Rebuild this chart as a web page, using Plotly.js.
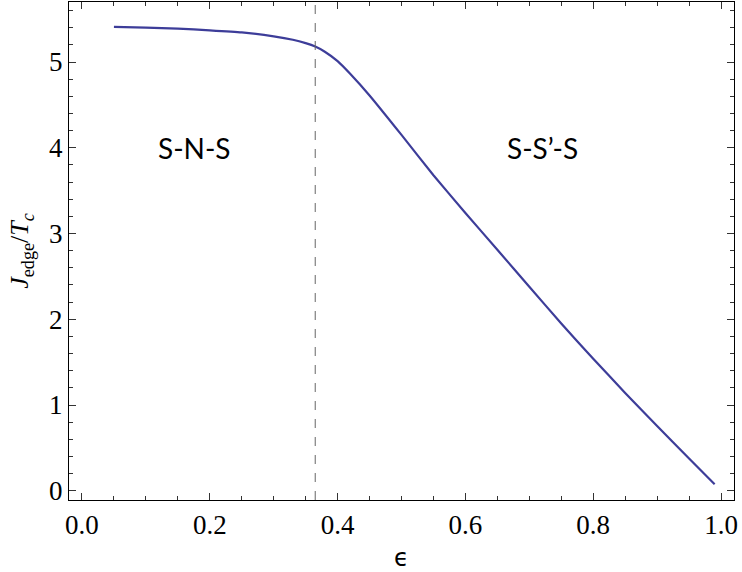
<!DOCTYPE html>
<html>
<head>
<meta charset="utf-8">
<script src="https://cdn.plot.ly/plotly-3.0.1.min.js"></script>
<style>html,body{margin:0;padding:0;background:#fff;}#plot{width:742px;height:572px;}</style>
</head>
<body>
<div id="plot"></div>
<script>
const epsilon = [0.05, 0.10, 0.15, 0.20, 0.25, 0.30, 0.33, 0.35, 0.365, 0.38, 0.40, 0.42, 0.45, 0.50, 0.55, 0.60, 0.65, 0.70, 0.75, 0.80, 0.85, 0.90, 0.95, 0.99];
const jEdge   = [5.41, 5.40, 5.39, 5.37, 5.345, 5.30, 5.26, 5.22, 5.18, 5.12, 5.01, 4.86, 4.61, 4.15, 3.68, 3.24, 2.81, 2.38, 1.95, 1.54, 1.14, 0.755, 0.375, 0.075];
const transitionX = 0.365;
const regionLabels = ["S-N-S", "S-S\u2019-S"];
const regionX = [0.176, 0.721];
const regionY = [4.0, 4.0];

const serif = "Liberation Serif";

const data = [{
  x: epsilon, y: jEdge, type: "scatter", mode: "lines",
  line: {color: "rgb(61,61,153)", width: 2.2, shape: "spline", smoothing: 0.4},
  hoverinfo: "skip", showlegend: false
}];

const layout = {
  width: 742, height: 572,
  margin: {l: 69, r: 8, t: 2, b: 72},
  paper_bgcolor: "#fff", plot_bgcolor: "#fff",
  font: {family: serif, size: 27, color: "#000"},
  xaxis: {
    showgrid: false, zeroline: false, showline: true, linecolor: "#000", linewidth: 1.2,
    mirror: "allticks", ticks: "inside", tickcolor: "#333", tickwidth: 1, ticklen: 7,
    tickfont: {family: serif, size: 27, color: "#000"},
    range: [-0.0203, 1.0203], tickmode: "linear", dtick: 0.2, tick0: 0, tickformat: ".1f",
    minor: {dtick: 0.05, tick0: 0, ticks: "inside", ticklen: 4, tickcolor: "#333", tickwidth: 1},
    title: {text: "\u03F5", font: {family: "DejaVu Sans", size: 24, color: "#000"}, standoff: 18}
  },
  yaxis: {
    showgrid: false, zeroline: false, showline: true, linecolor: "#000", linewidth: 1.2,
    mirror: "allticks", ticks: "inside", tickcolor: "#333", tickwidth: 1, ticklen: 7,
    tickfont: {family: serif, size: 27, color: "#000"},
    range: [-0.108, 5.70], tickmode: "linear", dtick: 1, tick0: 0,
    minor: {dtick: 0.2, tick0: 0, ticks: "inside", ticklen: 4, tickcolor: "#333", tickwidth: 1},
    title: {text: "<i>J</i><sub>edge</sub>/<i>T</i><sub><i>c</i></sub>", font: {family: serif, size: 26, color: "#000"}, standoff: 12}
  },
  shapes: [{
    type: "line", xref: "x", yref: "paper", x0: transitionX, x1: transitionX, y0: 0, y1: 1,
    line: {color: "#666", width: 1, dash: "dash"}
  }],
  annotations: regionLabels.map((t, i) => ({
    x: regionX[i], y: regionY[i], xref: "x", yref: "y", text: t, showarrow: false,
    font: {family: "Lato", size: 28, color: "#000"}
  }))
};

Plotly.newPlot("plot", data, layout, {displayModeBar: false, staticPlot: true});
</script>
</body>
</html>
